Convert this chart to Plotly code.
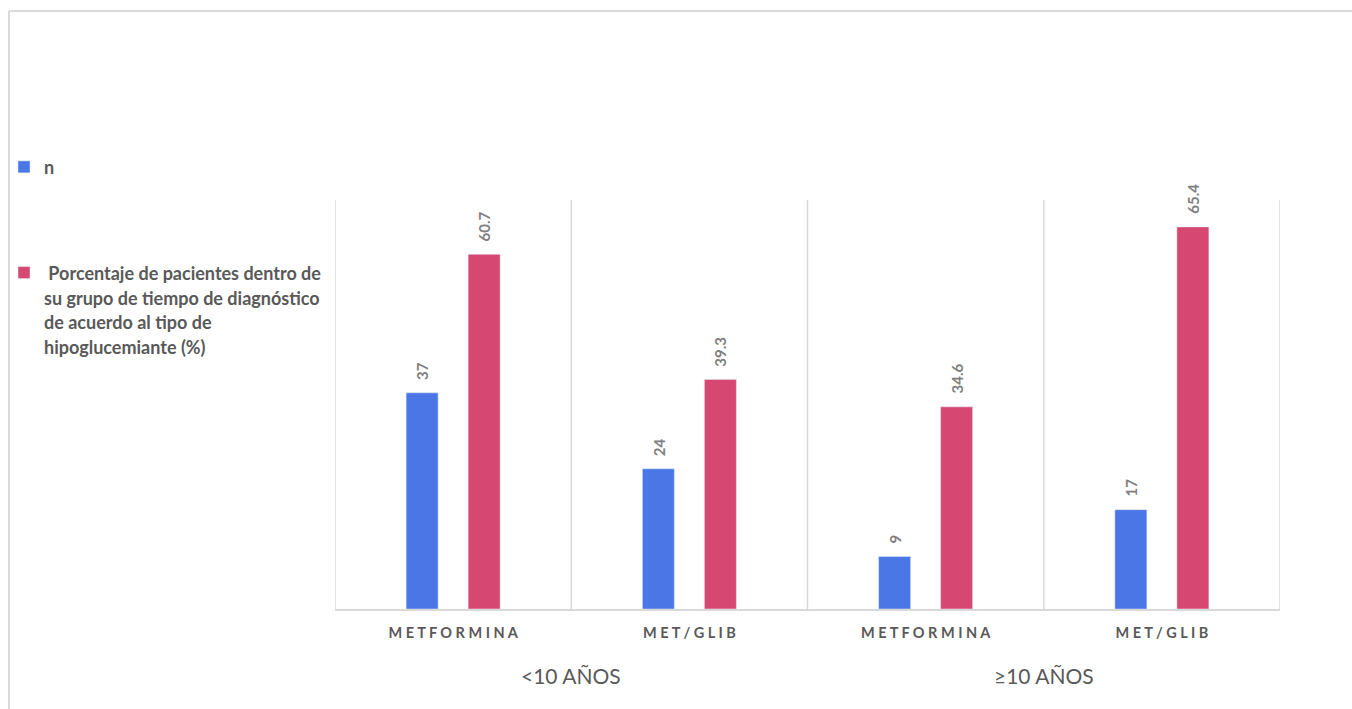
import plotly.graph_objects as go

# Data
groups = ["<10 AÑOS", "≥10 AÑOS"]
categories = ["METFORMINA", "MET/GLIB", "METFORMINA", "MET/GLIB"]
n_values = [37, 24, 9, 17]
pct_values = [60.7, 39.3, 34.6, 65.4]

series_names = [
    "n",
    " Porcentaje de pacientes dentro de<br>su grupo de tiempo de diagnóstico<br>de acuerdo al tipo de<br>hipoglucemiante (%)",
]
blue = "#4a76e6"
pink = "#d64771"
label_gray = "#808080"
text_gray = "#595959"
line_gray = "#d9d9d9"

# Plot area geometry (pixels)
W, H = 1352, 709
L, R, T, B = 335, 72, 200, 100
pw, ph = W - L - R, H - T - B


def px_x(px):
    return (px - L) / pw


def px_y(py):
    return (H - B - py) / ph


def spaced(s):
    return " ".join(s)


xs = list(range(len(categories)))

fig = go.Figure()
fig.add_trace(go.Bar(x=xs, y=n_values, name=series_names[0], marker_color=blue,
                     legendgroup="a"))
fig.add_trace(go.Bar(x=xs, y=pct_values, name=series_names[1], marker_color=pink,
                     legendgroup="b"))

# Rotated value labels above each bar
for vals, shift, fmt in [(n_values, -31, "{:g}"), (pct_values, 31, "{:.1f}")]:
    for i, v in enumerate(vals):
        fig.add_annotation(x=xs[i], y=v, text=fmt.format(v), textangle=-90,
                           xshift=shift, yshift=11, yanchor="bottom",
                           showarrow=False,
                           font=dict(family="Lato", size=15, color=label_gray,
                                     weight="bold"))

# Group labels under the category labels
for gi, g in enumerate(groups):
    fig.add_annotation(x=2 * gi + 0.5, y=px_y(675), yref="paper", text=g,
                       showarrow=False, yanchor="middle",
                       font=dict(family="Lato", size=21, color=text_gray))

# Category separators, including both outer edges
for b in [i - 0.5 for i in range(len(categories) + 1)]:
    fig.add_shape(type="line", xref="x", yref="paper", x0=b, x1=b, y0=0, y1=1,
                  line=dict(color=line_gray, width=1.5), layer="below")

# Outer frame lines
fig.add_shape(type="line", xref="paper", yref="paper",
              x0=px_x(9), x1=px_x(W + 5), y0=px_y(11), y1=px_y(11),
              line=dict(color=line_gray, width=2))
fig.add_shape(type="line", xref="paper", yref="paper",
              x0=px_x(9), x1=px_x(9), y0=px_y(11), y1=px_y(H + 5),
              line=dict(color=line_gray, width=2))

fig.update_layout(
    width=W, height=H,
    margin=dict(l=L, r=R, t=T, b=B, autoexpand=False),
    paper_bgcolor="white", plot_bgcolor="white",
    barmode="group", bargap=0.475, bargroupgap=0.484,
    showlegend=True,
    legend=dict(x=px_x(4), y=px_y(148), xanchor="left", yanchor="top",
                valign="top", tracegroupgap=78, itemwidth=30,
                bgcolor="rgba(0,0,0,0)",
                font=dict(family="Lato", size=19, color=text_gray, weight="bold")),
    xaxis=dict(range=[-0.5, len(categories) - 0.5],
               tickvals=xs, ticktext=[spaced(c) for c in categories],
               tickfont=dict(family="Lato", size=14.5, color=text_gray, weight="bold"),
               ticklabelstandoff=10,
               showgrid=False, zeroline=False, ticks="",
               showline=True, linecolor=line_gray, linewidth=2,
               fixedrange=True),
    yaxis=dict(range=[0, 70], visible=False, showgrid=False, zeroline=False),
)

# Smaller glyphs inside the legend, keeping the wider line spacing
fig.data[0].name = "<span style='font-size:18px'>n</span>"
fig.data[1].name = "<br>".join(
    "<span style='font-size:18px'>" + ln + "</span>" for ln in series_names[1].split("<br>"))

fig.write_html("out.html")
